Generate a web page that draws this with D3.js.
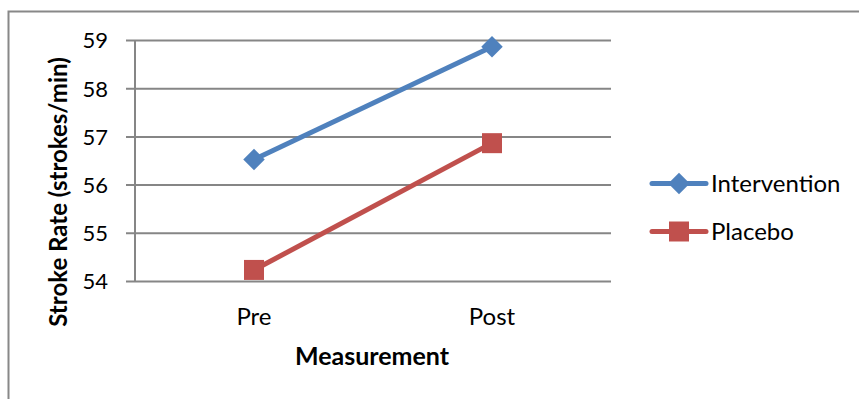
<!DOCTYPE html>
<html>
<head>
<meta charset="utf-8">
<script src="https://cdn.jsdelivr.net/npm/d3@7"></script>
<style>
  html, body { margin: 0; padding: 0; background: #fff; }
  svg { display: block; }
  text { font-family: Lato, "Open Sans", sans-serif; fill: #000; }
</style>
</head>
<body>
<svg id="chart" width="859" height="399"></svg>
<script>
const categories = ["Pre", "Post"];
const seriesNames = ["Intervention", "Placebo"];
const interventionValues = [56.53, 58.87];
const placeboValues = [54.24, 56.87];
const yTicks = [54, 55, 56, 57, 58, 59];
const xTitle = "Measurement";
const yTitle = "Stroke Rate (strokes/min)";

const series = [
  { name: seriesNames[0], values: interventionValues, color: "#4F81BD", shape: "diamond" },
  { name: seriesNames[1], values: placeboValues, color: "#C0504D", shape: "square" }
];

const svg = d3.select("#chart");
const W = 859, H = 399;
const plot = { left: 135, right: 611, top: 40.5, bottom: 281.5 };

// outer border (extends beyond right/bottom edges)
svg.append("rect")
  .attr("x", 8.5).attr("y", 11.5)
  .attr("width", W + 10).attr("height", H + 10)
  .attr("fill", "none").attr("stroke", "#888").attr("stroke-width", 2);

const x = d3.scaleBand().domain(categories).range([plot.left, plot.right]);
const y = d3.scaleLinear().domain([54, 59]).range([plot.bottom, plot.top]);

// gridlines
svg.append("g").selectAll("line").data(yTicks).join("line")
  .attr("x1", 126).attr("x2", plot.right)
  .attr("y1", d => y(d)).attr("y2", d => y(d))
  .attr("stroke", "#868686").attr("stroke-width", 2);

// y axis line
svg.append("line")
  .attr("x1", plot.left).attr("x2", plot.left)
  .attr("y1", plot.top).attr("y2", plot.bottom)
  .attr("stroke", "#868686").attr("stroke-width", 2);

// y tick labels
svg.append("g").selectAll("text").data(yTicks).join("text")
  .attr("x", 108).attr("y", d => y(d))
  .attr("dy", "0.36em")
  .attr("text-anchor", "end")
  .attr("font-size", 22)
  .text(d => d);

// x tick labels
svg.append("g").selectAll("text").data(categories).join("text")
  .attr("x", d => x(d) + x.bandwidth() / 2).attr("y", 325)
  .attr("text-anchor", "middle")
  .attr("font-size", 24)
  .text(d => d);

// axis titles
svg.append("text")
  .attr("x", 372).attr("y", 365)
  .attr("text-anchor", "middle")
  .attr("font-size", 25).attr("font-weight", "bold")
  .text(xTitle);

svg.append("text")
  .attr("transform", "translate(67,192) rotate(-90)")
  .attr("text-anchor", "middle")
  .attr("font-size", 24).attr("font-weight", "bold")
  .text(yTitle);

const line = d3.line()
  .x((d, i) => x(categories[i]) + x.bandwidth() / 2)
  .y(d => y(d));

const square = d3.symbol().type(d3.symbolSquare).size(400);
const diamond = d3.symbol().type(d3.symbolSquare).size(230);

function marker(g, s, cx, cy) {
  g.append("path")
    .attr("d", s.shape === "diamond" ? diamond() : square())
    .attr("transform", `translate(${cx},${cy})` + (s.shape === "diamond" ? " rotate(45)" : ""))
    .attr("fill", s.color);
}

series.forEach(s => {
  svg.append("path")
    .attr("d", line(s.values))
    .attr("fill", "none")
    .attr("stroke", s.color)
    .attr("stroke-width", 5);
  const g = svg.append("g");
  s.values.forEach((v, i) => marker(g, s, x(categories[i]) + x.bandwidth() / 2, y(v)));
});

// legend
const legY = [183.5, 231.5];
series.forEach((s, i) => {
  const g = svg.append("g");
  g.append("line")
    .attr("x1", 652).attr("x2", 706)
    .attr("y1", legY[i]).attr("y2", legY[i])
    .attr("stroke", s.color).attr("stroke-width", 5)
    .attr("stroke-linecap", "round");
  marker(g, s, 679, legY[i]);
  g.append("text")
    .attr("x", 711).attr("y", legY[i])
    .attr("dy", "0.36em")
    .attr("font-size", 24)
    .text(s.name);
});
</script>
</body>
</html>
